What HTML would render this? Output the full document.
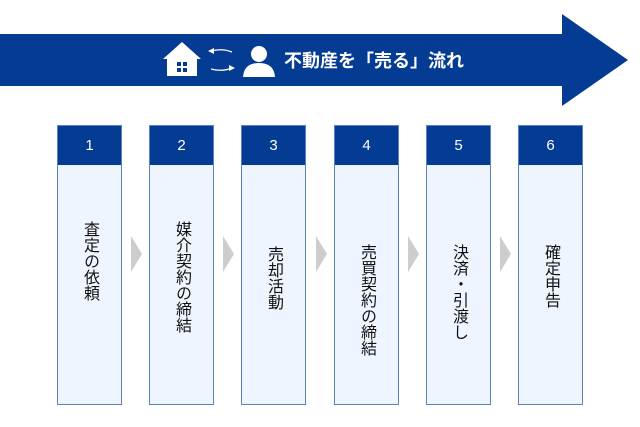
<!DOCTYPE html>
<html><head><meta charset="utf-8"><style>
body{margin:0;width:640px;height:427px;background:#fff;position:relative;overflow:hidden;font-family:"Liberation Sans","Noto Sans CJK JP",sans-serif}
.col{position:absolute;top:125px;width:63px;height:278px;border:1px solid #5a82c4;background:#eef5fe}
.hd{height:39px;background:#043c93;color:#fff;font-size:15px;text-align:center;line-height:39px}
.tx{position:absolute;left:0;width:63px;writing-mode:vertical-rl;font-size:16px;line-height:63px;color:#111;letter-spacing:0}
.chev{position:absolute;top:236px;width:0;height:0;border-top:18px solid transparent;border-bottom:18px solid transparent;border-left:11px solid #cdcdcd}
</style></head><body>
<svg width="640" height="120" style="position:absolute;left:0;top:0">
<polygon points="0,34 562,34 562,14 628,60 562,106 562,86 0,86" fill="#043c93"/>
<g fill="#fff">
<polygon points="163,59 182,42 201,59 197,59 197,76 167,76 167,59"/>
</g>
<rect x="177" y="62" width="4" height="4" fill="#043c93"/><rect x="183" y="62" width="4" height="4" fill="#043c93"/>
<rect x="177" y="68" width="4" height="4" fill="#043c93"/><rect x="183" y="68" width="4" height="4" fill="#043c93"/>
<g stroke="#fff" stroke-width="1.3" fill="none">
<path d="M211,51 Q222,48 232,52"/><path d="M211,69 Q222,72 232,68"/>
</g>
<polygon points="208,51 214,48 214,54" fill="#fff"/><polygon points="235,68 229,65 229,71" fill="#fff"/>
<circle cx="259" cy="54" r="8" fill="#fff"/>
<path d="M243,77 Q244,63 259,63 Q274,63 275,77 Z" fill="#fff"/>
<text x="284" y="67" font-size="18" font-weight="bold" fill="#fff" font-family="Liberation Sans, Noto Sans CJK JP, sans-serif">不動産を「売る」流れ</text>
</svg>
<div class="col" style="left:57px"><div class="hd">1</div><div class="tx" style="top:95px">査定の依頼</div></div>
<div class="col" style="left:149px"><div class="hd">2</div><div class="tx" style="top:95px">媒介契約の締結</div></div>
<div class="col" style="left:241px"><div class="hd">3</div><div class="tx" style="top:120px">売却活動</div></div>
<div class="col" style="left:334px"><div class="hd">4</div><div class="tx" style="top:118px">売買契約の締結</div></div>
<div class="col" style="left:426px"><div class="hd">5</div><div class="tx" style="top:118px">決済・引渡し</div></div>
<div class="col" style="left:518px"><div class="hd">6</div><div class="tx" style="top:118px">確定申告</div></div>
<div class="chev" style="left:131px"></div>
<div class="chev" style="left:223px"></div>
<div class="chev" style="left:316px"></div>
<div class="chev" style="left:408px"></div>
<div class="chev" style="left:500px"></div>
</body></html>
